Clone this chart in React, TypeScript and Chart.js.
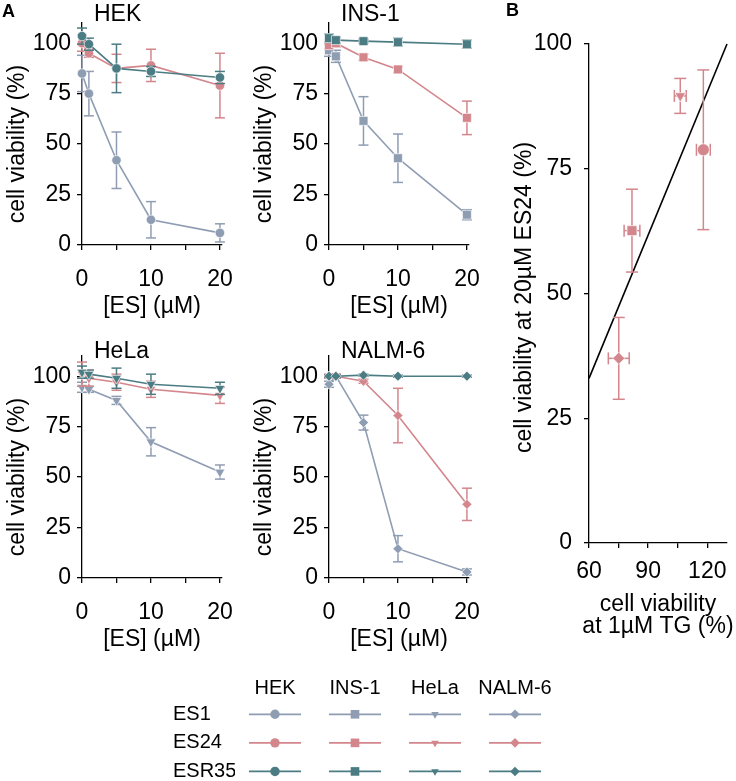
import React, { useEffect, useRef } from "react";
import { Chart, registerables } from "chart.js";
Chart.register(...registerables);

const FONT = "'Liberation Sans', Arial, Helvetica, sans-serif";
const C_ES1 = "#8f9db3";
const C_ES24 = "#d3868c";
const C_ES35 = "#4b7c83";

// ---------- Panel A data ----------
const concentrations = [0, 1, 5, 10, 20];
const xTicksA = [0, 5, 10, 15, 20];
const xLabelsA = [0, 10, 20];
const yTicksA = [0, 25, 50, 75, 100];

const hekES1 = [85, 75, 42, 12.5, 6];
const hekES1Err = [9, 11, 14, 9, 4.5];
const hekES24 = [100, 95, 87.5, 89, 79];
const hekES24Err = [4, 2, 7, 8, 16];
const hekES35 = [103.5, 99.5, 87.5, 86, 83];
const hekES35Err = [4, 3, 12, 2.5, 3];

const insES1 = [96.5, 93.5, 61.5, 43, 15];
const insES1Err = [3, 3, 12, 12, 2.5];
const insES24 = [99, 100, 93, 87, 63];
const insES24Err = [2, 2, 1.5, 1.5, 8.3];
const insES35 = [102.5, 101.5, 101, 100.5, 99.5];
const insES35Err = [2, 1.5, 1, 2, 2];

const helaES1 = [94.5, 93.5, 88, 67.5, 52.5];
const helaES1Err = [2.5, 1.5, 2, 7, 3.5];
const helaES24 = [101, 99, 97, 93.5, 90.5];
const helaES24Err = [6, 4, 4, 4, 4];
const helaES35 = [102, 101, 99, 96, 94];
const helaES35Err = [3, 2, 5, 5, 3];

const nalmES1 = [96, 100, 77, 14.5, 3];
const nalmES1Err = [1.5, 1, 3.7, 6.5, 1.5];
const nalmES24 = [100, 100, 97.5, 80.5, 36.5];
const nalmES24Err = [1, 1, 1, 13.5, 8];
const nalmES35 = [100, 100, 100.5, 100, 100];
const nalmES35Err = [0.5, 0.5, 0.5, 0.5, 0.5];

// ---------- Panel B data ----------
const bCellLines = ["HEK", "INS-1", "HeLa", "NALM-6"];
const bTG = [118, 81.8, 106.3, 75.1];
const bTGErr = [3.5, 4, 3, 5.3];
const bES24 = [78.8, 62.6, 89.6, 37];
const bES24Err = [16, 8.3, 3.5, 8.2];
const bFitX = [60, 130];
const bFitY = [33, 100];
const xTicksB = [60, 75, 90, 105, 120];
const xLabelsB = [60, 90, 120];
const yTicksB = [0, 25, 50, 75, 100];

// ---------- Legend ----------
const cellLines = ["HEK", "INS-1", "HeLa", "NALM-6"];
const compounds = ["ES1", "ES24", "ESR35"];
const compoundColors = [C_ES1, C_ES24, C_ES35];
const lineStyles = ["circle", "rect", "triangle", "rectRot"];
const lineRotations = [0, 0, 180, 0];

const errorBarPlugin = {
  id: "errorBars",
  beforeDatasetDraw(chart: any, args: any) {
    const ds: any = chart.data.datasets[args.index];
    if (!ds.yErr && !ds.xErr) return;
    const xs = chart.scales.x;
    const ys = chart.scales.y;
    const ctx = chart.ctx;
    const cap = ds.capHalf ?? 5;
    ctx.save();
    ctx.strokeStyle = ds.borderColor;
    ctx.lineWidth = 1.5;
    const seg = (x1: number, y1: number, x2: number, y2: number) => {
      ctx.beginPath();
      ctx.moveTo(x1, y1);
      ctx.lineTo(x2, y2);
      ctx.stroke();
    };
    ds.data.forEach((d: any, i: number) => {
      const px = xs.getPixelForValue(d.x);
      const py = ys.getPixelForValue(d.y);
      if (ds.yErr) {
        const e = ds.yErr[i];
        const t = ys.getPixelForValue(d.y + e);
        const b = ys.getPixelForValue(d.y - e);
        seg(px, t, px, b);
        seg(px - cap, t, px + cap, t);
        seg(px - cap, b, px + cap, b);
      }
      if (ds.xErr) {
        const e = ds.xErr[i];
        const l = xs.getPixelForValue(d.x - e);
        const r = xs.getPixelForValue(d.x + e);
        seg(l, py, r, py);
        seg(l, py - cap, l, py + cap);
        seg(r, py - cap, r, py + cap);
      }
    });
    ctx.restore();
  },
};

type TextCfg = {
  letter?: { text: string; x: number; y: number };
  title?: string;
  titleY?: number;
  yTitle?: string;
  yShift?: number;
  xTitle?: string[];
};

function makeTextPlugin(cfg: TextCfg) {
  return {
    id: "panelText",
    afterDraw(chart: any) {
      const { ctx, chartArea, scales } = chart;
      ctx.save();
      ctx.fillStyle = "#000";
      if (cfg.letter) {
        ctx.font = `bold 18px ${FONT}`;
        ctx.textAlign = "left";
        ctx.textBaseline = "middle";
        ctx.fillText(cfg.letter.text, cfg.letter.x, cfg.letter.y);
      }
      ctx.font = `23px ${FONT}`;
      if (cfg.title) {
        ctx.textAlign = "left";
        ctx.textBaseline = "middle";
        ctx.fillText(cfg.title, chartArea.left + 12, cfg.titleY ?? 15);
      }
      if (cfg.yTitle) {
        const y0 = scales.y.getPixelForValue(0);
        const y1 = scales.y.getPixelForValue(100);
        ctx.save();
        ctx.translate(chartArea.left - 64, (y0 + y1) / 2 + (cfg.yShift ?? 0));
        ctx.rotate(-Math.PI / 2);
        ctx.textAlign = "center";
        ctx.textBaseline = "middle";
        ctx.fillText(cfg.yTitle, 0, 0);
        ctx.restore();
      }
      if (cfg.xTitle) {
        ctx.textAlign = "center";
        ctx.textBaseline = "middle";
        const cx = (chartArea.left + chartArea.right) / 2;
        cfg.xTitle.forEach((line, i) => {
          ctx.fillText(line, cx, chartArea.bottom + 62 + i * 22);
        });
      }
      ctx.restore();
    },
  };
}

function axisStyle() {
  return {
    grid: {
      display: true,
      drawOnChartArea: false,
      drawTicks: true,
      tickLength: 5,
      color: "#000",
      lineWidth: 1.3,
    },
    border: { display: true, color: "#000", width: 1.3 },
  };
}

function fixX(h: number) {
  return (s: any) => {
    s.height = h;
    s.paddingLeft = 0;
    s.paddingRight = 0;
  };
}
function fixY(w: number) {
  return (s: any) => {
    s.width = w;
    s.paddingTop = 0;
    s.paddingBottom = 0;
  };
}

type PanelSpec = {
  title: string;
  titleY: number;
  letter?: { text: string; x: number; y: number };
  style: string;
  rotation: number;
  radius: number;
  series: { vals: number[]; err: number[] }[];
};

function panelConfig(p: PanelSpec): any {
  const colors = [C_ES1, C_ES24, C_ES35];
  const orders = [2, 1, 0];
  const datasets = p.series.map((s, k) => ({
    label: compounds[k],
    data: concentrations.map((c, i) => ({ x: c, y: s.vals[i] })),
    yErr: s.err,
    capHalf: 5,
    borderColor: colors[k],
    backgroundColor: colors[k],
    pointBackgroundColor: colors[k],
    pointBorderColor: "rgba(255,255,255,0.8)",
    pointBorderWidth: 0.8,
    pointStyle: p.style,
    pointRotation: p.rotation,
    pointRadius: p.radius,
    borderWidth: 1.6,
    showLine: true,
    clip: false,
    order: orders[k],
  }));
  return {
    type: "scatter",
    data: { datasets },
    options: {
      animation: false,
      responsive: false,
      events: [],
      layout: { padding: { left: 0, right: 18, top: 23, bottom: 0 } },
      plugins: { legend: { display: false }, tooltip: { enabled: false } },
      scales: {
        x: {
          type: "linear",
          min: 0,
          max: 20.3,
          afterBuildTicks: (s: any) => {
            s.ticks = xTicksA.map((v) => ({ value: v }));
          },
          afterFit: fixX(75),
          ticks: {
            autoSkip: false,
            maxRotation: 0,
            padding: 16,
            color: "#000",
            font: { family: FONT, size: 23 },
            callback: (v: any) => (xLabelsA.includes(v) ? String(v) : ""),
          },
          ...axisStyle(),
        },
        y: {
          type: "linear",
          min: 0,
          max: 110,
          afterBuildTicks: (s: any) => {
            s.ticks = yTicksA.map((v) => ({ value: v }));
          },
          afterFit: fixY(82),
          ticks: {
            autoSkip: false,
            padding: 6,
            color: "#000",
            font: { family: FONT, size: 23 },
            callback: (v: any) => String(v),
          },
          ...axisStyle(),
        },
      },
    },
    plugins: [
      errorBarPlugin,
      makeTextPlugin({
        letter: p.letter,
        title: p.title,
        titleY: p.titleY,
        yTitle: "cell viability (%)",
        xTitle: ["[ES] (µM)"],
      }),
    ],
  };
}

function panelBConfig(): any {
  const styles = ["circle", "rect", "triangle", "rectRot"];
  const rots = [0, 0, 180, 0];
  const radii = [6, 7, 6.2, 6];
  const datasets: any[] = bCellLines.map((name, i) => ({
    label: name,
    data: [{ x: bTG[i], y: bES24[i] }],
    xErr: [bTGErr[i]],
    yErr: [bES24Err[i]],
    capHalf: 6,
    borderColor: C_ES24,
    backgroundColor: C_ES24,
    pointBackgroundColor: C_ES24,
    pointBorderColor: "rgba(255,255,255,0.8)",
    pointBorderWidth: 0.8,
    pointStyle: styles[i],
    pointRotation: rots[i],
    pointRadius: radii[i],
    showLine: false,
    clip: false,
  }));
  datasets.push({
    label: "fit",
    data: bFitX.map((x, i) => ({ x, y: bFitY[i] })),
    borderColor: "#000",
    backgroundColor: "#000",
    borderWidth: 1.6,
    pointRadius: 0,
    showLine: true,
    clip: false,
  });
  return {
    type: "scatter",
    data: { datasets },
    options: {
      animation: false,
      responsive: false,
      events: [],
      layout: { padding: { left: 0, right: 9, top: 44, bottom: 0 } },
      plugins: { legend: { display: false }, tooltip: { enabled: false } },
      scales: {
        x: {
          type: "linear",
          min: 60,
          max: 130,
          afterBuildTicks: (s: any) => {
            s.ticks = xTicksB.map((v) => ({ value: v }));
          },
          afterFit: fixX(107),
          ticks: {
            autoSkip: false,
            maxRotation: 0,
            padding: 10,
            color: "#000",
            font: { family: FONT, size: 23 },
            callback: (v: any) => (xLabelsB.includes(v) ? String(v) : ""),
          },
          ...axisStyle(),
        },
        y: {
          type: "linear",
          min: 0,
          max: 100,
          afterBuildTicks: (s: any) => {
            s.ticks = yTicksB.map((v) => ({ value: v }));
          },
          afterFit: fixY(99),
          ticks: {
            autoSkip: false,
            padding: 12,
            color: "#000",
            font: { family: FONT, size: 23 },
            callback: (v: any) => String(v),
          },
          ...axisStyle(),
        },
      },
    },
    plugins: [
      errorBarPlugin,
      makeTextPlugin({
        letter: { text: "B", x: 16, y: 11 },
        yTitle: "cell viability at 20µM ES24 (%)",
        yShift: 4,
        xTitle: ["cell viability", "at 1µM TG (%)"],
      }),
    ],
  };
}

function legendConfig(): any {
  const legendRadii = [4.7, 6.1, 4.4, 4.8];
  const datasets: any[] = [];
  compounds.forEach((comp, r) => {
    cellLines.forEach((cl, c) => {
      datasets.push({
        label: `${comp} ${cl}`,
        data: [
          { x: c - 0.325, y: r },
          { x: c, y: r },
          { x: c + 0.325, y: r },
        ],
        borderColor: compoundColors[r],
        backgroundColor: compoundColors[r],
        pointBackgroundColor: compoundColors[r],
        pointBorderWidth: 0,
        pointStyle: lineStyles[c],
        pointRotation: lineRotations[c],
        pointRadius: [0, legendRadii[c], 0],
        borderWidth: 1.8,
        showLine: true,
        clip: false,
      });
    });
  });
  return {
    type: "scatter",
    data: { datasets },
    options: {
      animation: false,
      responsive: false,
      events: [],
      layout: { padding: { left: 33, right: 5, top: 1, bottom: 1 } },
      plugins: { legend: { display: false }, tooltip: { enabled: false } },
      scales: {
        x: {
          type: "linear",
          position: "top",
          min: -0.5,
          max: 3.5,
          afterBuildTicks: (s: any) => {
            s.ticks = cellLines.map((_, i) => ({ value: i }));
          },
          afterFit: fixX(29),
          ticks: {
            autoSkip: false,
            maxRotation: 0,
            padding: 0,
            color: "#000",
            font: { family: FONT, size: 20 },
            callback: (v: any) => cellLines[Math.round(v)] ?? "",
          },
          grid: { display: false, drawTicks: false },
          border: { display: false },
        },
        y: {
          type: "linear",
          reverse: true,
          min: -0.5,
          max: 2.3,
          afterBuildTicks: (s: any) => {
            s.ticks = compounds.map((_, i) => ({ value: i }));
          },
          afterFit: fixY(62),
          ticks: {
            autoSkip: false,
            crossAlign: "far",
            padding: 0,
            color: "#000",
            font: { family: FONT, size: 20 },
            callback: (v: any) => compounds[Math.round(v)] ?? "",
          },
          grid: { display: false, drawTicks: false },
          border: { display: false },
        },
      },
    },
  };
}

export default function App() {
  const hekRef = useRef<HTMLCanvasElement>(null);
  const insRef = useRef<HTMLCanvasElement>(null);
  const helaRef = useRef<HTMLCanvasElement>(null);
  const nalmRef = useRef<HTMLCanvasElement>(null);
  const bRef = useRef<HTMLCanvasElement>(null);
  const legRef = useRef<HTMLCanvasElement>(null);

  useEffect(() => {
    const charts: Chart[] = [];
    charts.push(
      new Chart(
        hekRef.current!,
        panelConfig({
          title: "HEK",
          titleY: 15,
          letter: { text: "A", x: 2, y: 12 },
          style: "circle",
          rotation: 0,
          radius: 4.7,
          series: [
            { vals: hekES1, err: hekES1Err },
            { vals: hekES24, err: hekES24Err },
            { vals: hekES35, err: hekES35Err },
          ],
        })
      )
    );
    charts.push(
      new Chart(
        insRef.current!,
        panelConfig({
          title: "INS-1",
          titleY: 15,
          style: "rect",
          rotation: 0,
          radius: 6.3,
          series: [
            { vals: insES1, err: insES1Err },
            { vals: insES24, err: insES24Err },
            { vals: insES35, err: insES35Err },
          ],
        })
      )
    );
    charts.push(
      new Chart(
        helaRef.current!,
        panelConfig({
          title: "HeLa",
          titleY: 19,
          style: "triangle",
          rotation: 180,
          radius: 5.8,
          series: [
            { vals: helaES1, err: helaES1Err },
            { vals: helaES24, err: helaES24Err },
            { vals: helaES35, err: helaES35Err },
          ],
        })
      )
    );
    charts.push(
      new Chart(
        nalmRef.current!,
        panelConfig({
          title: "NALM-6",
          titleY: 19,
          style: "rectRot",
          rotation: 0,
          radius: 5,
          series: [
            { vals: nalmES1, err: nalmES1Err },
            { vals: nalmES24, err: nalmES24Err },
            { vals: nalmES35, err: nalmES35Err },
          ],
        })
      )
    );
    charts.push(new Chart(bRef.current!, panelBConfig()));
    charts.push(new Chart(legRef.current!, legendConfig()));
    return () => charts.forEach((c) => c.destroy());
  }, []);

  const abs = (left: number, top: number): React.CSSProperties => ({
    position: "absolute",
    left,
    top,
  });

  return (
    <div
      style={{
        position: "absolute",
        left: 0,
        top: 0,
        width: 736,
        height: 781,
        background: "#fff",
        overflow: "hidden",
      }}
    >
      <canvas ref={hekRef} width={240} height={320} style={abs(0, 0)} />
      <canvas ref={insRef} width={240} height={320} style={abs(247, 0)} />
      <canvas ref={helaRef} width={240} height={320} style={abs(0, 333)} />
      <canvas ref={nalmRef} width={240} height={320} style={abs(247, 333)} />
      <canvas ref={bRef} width={246} height={650} style={abs(490, 0)} />
      <canvas ref={legRef} width={420} height={111} style={abs(140, 670)} />
    </div>
  );
}
